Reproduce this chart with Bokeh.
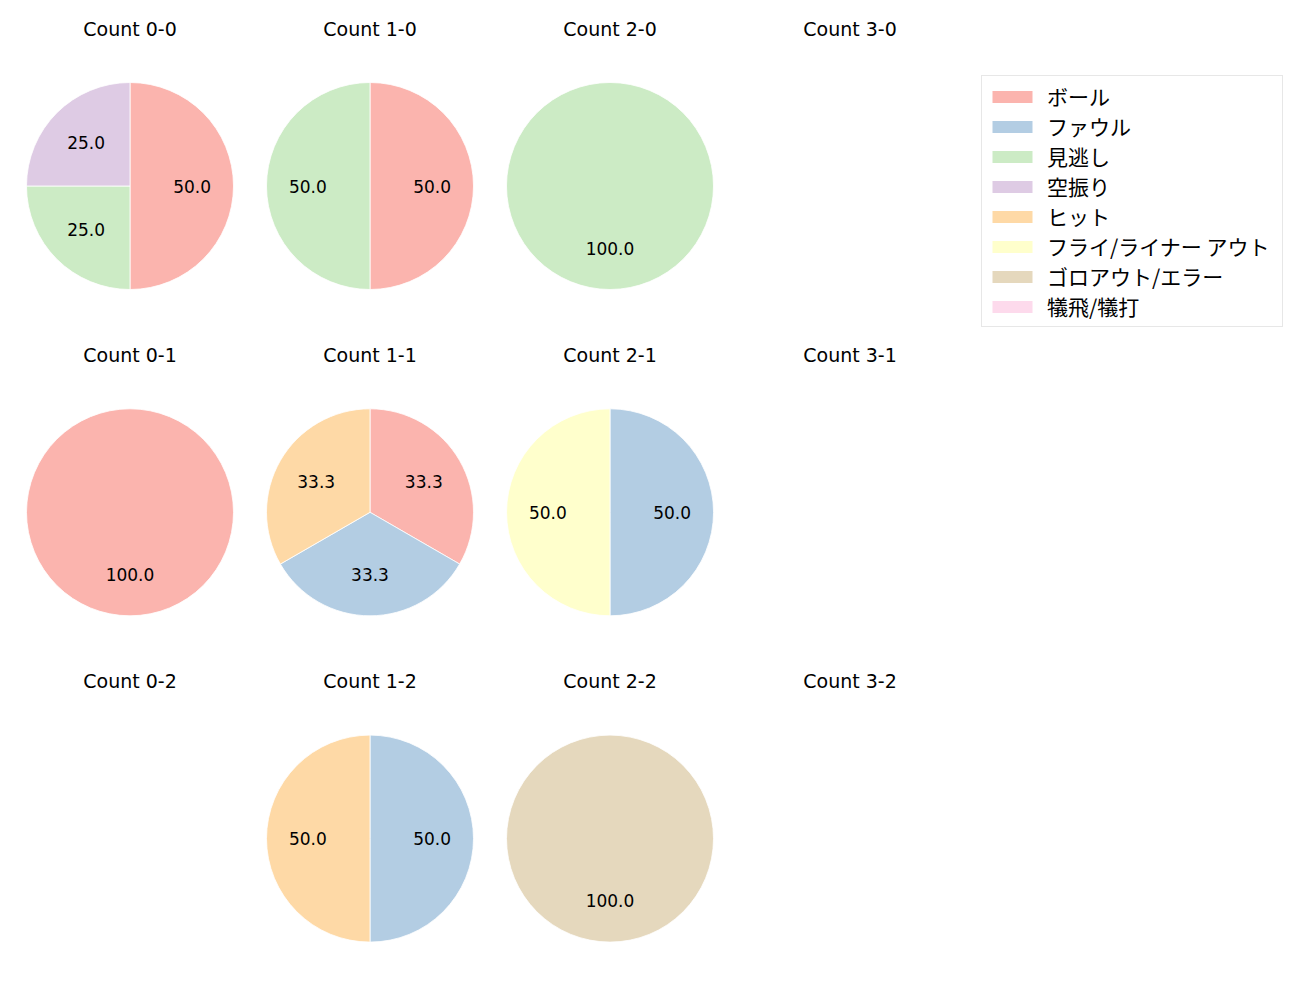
import math
from bokeh.plotting import figure
from bokeh.models import Range1d, ColumnDataSource, Legend, LegendItem
from bokeh.core.properties import value
from bokeh.embed import file_html
from bokeh.resources import INLINE

# ---------------- data ----------------
categories = ["ボール", "ファウル", "見逃し", "空振り", "ヒット",
              "フライ/ライナー アウト", "ゴロアウト/エラー", "犠飛/犠打"]
colors = ["#fbb4ae", "#b3cde3", "#ccebc5", "#decbe4", "#fed9a6",
          "#ffffcc", "#e5d8bd", "#fddaec"]
count_labels = ["0-0", "1-0", "2-0", "3-0",
                "0-1", "1-1", "2-1", "3-1",
                "0-2", "1-2", "2-2", "3-2"]
ball       = [2, 1, 0, 0,  1, 1, 0, 0,  0, 0, 0, 0]
foul       = [0, 0, 0, 0,  0, 1, 1, 0,  0, 1, 0, 0]
looking    = [1, 1, 1, 0,  0, 0, 0, 0,  0, 0, 0, 0]
swinging   = [1, 0, 0, 0,  0, 0, 0, 0,  0, 0, 0, 0]
hit        = [0, 0, 0, 0,  0, 1, 0, 0,  0, 1, 0, 0]
fly_out    = [0, 0, 0, 0,  0, 0, 1, 0,  0, 0, 0, 0]
ground_out = [0, 0, 0, 0,  0, 0, 0, 0,  0, 0, 1, 0]
sacrifice  = [0, 0, 0, 0,  0, 0, 0, 0,  0, 0, 0, 0]
series = [ball, foul, looking, swinging, hit, fly_out, ground_out, sacrifice]

# ---------------- layout ----------------
W, H = 1284, 984
X0, DX = 129.5, 240.0      # pie centre of first column, column pitch (screen px)
Y0, DY = 185.5, 326.3      # pie centre of first row, row pitch (screen px, from top)
R = 103.5
TITLE_OFF = 157.5
LABEL_FONT = "DejaVu Sans"
JP_FONT = "Noto Sans CJK JP"

p = figure(width=W, height=H,
           x_range=Range1d(0, W), y_range=Range1d(0, H),
           output_backend="svg", toolbar_location=None, min_border=0)
p.axis.visible = False
p.grid.visible = False
p.outline_line_color = None
p.background_fill_color = "white"
p.border_fill_color = "white"

wedge_data = [dict(x=[], y=[], start=[], end=[]) for _ in categories]
full_data = [dict(x=[], y=[]) for _ in categories]
lab = dict(x=[], y=[], text=[])
ttl = dict(x=[], y=[], text=[])

for i, cl in enumerate(count_labels):
    r, c = divmod(i, 4)
    cx = X0 + c * DX
    cy = H - (Y0 + r * DY)
    ttl["x"].append(cx)
    ttl["y"].append(cy + TITLE_OFF)
    ttl["text"].append("Count " + cl)
    total = sum(s[i] for s in series)
    if total == 0:
        continue
    cum = 0.0
    for k, s in enumerate(series):
        v = s[i]
        if v == 0:
            continue
        frac = v / total
        a0 = 90.0 - 360.0 * (cum + frac)
        a1 = 90.0 - 360.0 * cum
        mid = math.radians((a0 + a1) / 2)
        if frac >= 0.999999:
            full_data[k]["x"].append(cx)
            full_data[k]["y"].append(cy)
        else:
            d = wedge_data[k]
            d["x"].append(cx)
            d["y"].append(cy)
            d["start"].append(math.radians(a0))
            d["end"].append(math.radians(a1))
        lab["x"].append(cx + 0.6 * R * math.cos(mid))
        lab["y"].append(cy + 0.6 * R * math.sin(mid))
        lab["text"].append(f"{100 * frac:.1f}")
        cum += frac

for k in range(len(categories)):
    d = wedge_data[k]
    if d["x"]:
        p.wedge(x="x", y="y", radius=R, start_angle="start", end_angle="end",
                direction="anticlock", source=ColumnDataSource(d),
                fill_color=colors[k], line_color="white", line_width=0.8)
    f = full_data[k]
    if f["x"]:
        p.circle(x="x", y="y", radius=R, source=ColumnDataSource(f),
                 fill_color=colors[k], line_color="white", line_width=0.8)

p.text(x="x", y="y", text="text", source=ColumnDataSource(lab),
       text_font=value(LABEL_FONT), text_font_size="17px",
       text_align="center", text_baseline="middle", text_color="black")
p.text(x="x", y="y", text="text", source=ColumnDataSource(ttl),
       text_font=value(LABEL_FONT), text_font_size="19px",
       text_align="center", text_baseline="middle", text_color="black")

# legend proxies (zero-size, one per category)
items = []
for k, cat in enumerate(categories):
    proxy = p.rect(x=[X0], y=[H - Y0], width=0, height=0,
                   fill_color=colors[k], line_color=None)
    items.append(LegendItem(label=cat, renderers=[proxy]))

legend = Legend(items=items, location=(981, H - 327), padding=5, spacing=0,
                margin=0, glyph_width=50, glyph_height=15, label_standoff=10,
                label_width=230, label_text_font=JP_FONT,
                label_text_font_size="21px", label_text_color="black",
                border_line_color="#d0d0d0", border_line_width=1,
                background_fill_color="white", background_fill_alpha=1.0)
p.add_layout(legend)

open("out.html", "w").write(file_html(p, INLINE))
